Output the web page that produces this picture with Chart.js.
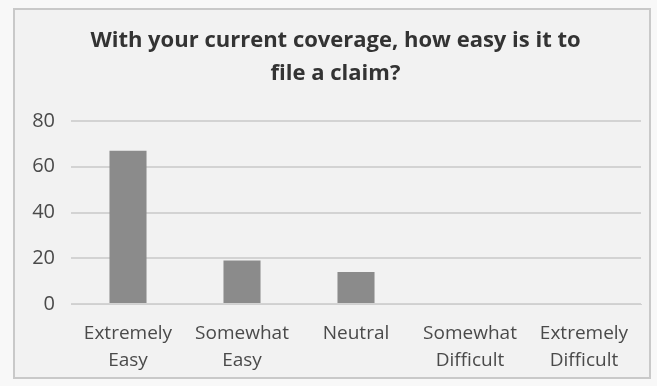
<!DOCTYPE html>
<html>
<head>
<meta charset="utf-8">
<script src="https://cdn.jsdelivr.net/npm/chart.js@4"></script>
<style>
  html, body { margin: 0; padding: 0; background: #f8f8f8; }
  #wrap { position: relative; width: 657px; height: 386px; }
  canvas { display: block; }
</style>
</head>
<body>
<div id="wrap"><canvas id="c" width="657" height="386"></canvas></div>
<script>
const categories = [
  ['Extremely', 'Easy'],
  ['Somewhat', 'Easy'],
  'Neutral',
  ['Somewhat', 'Difficult'],
  ['Extremely', 'Difficult']
];
const responses = [67, 19, 14, 0, 0];
const titleLines = ['With your current coverage, how easy is it to', 'file a claim?'];
const yTicks = [0, 20, 40, 60, 80];

// light panel with a thin grey frame behind the chart
const framePlugin = {
  id: 'frame',
  beforeDraw(chart) {
    const ctx = chart.ctx;
    ctx.save();
    ctx.fillStyle = '#f2f2f2';
    ctx.fillRect(14, 9, 636, 369);
    ctx.strokeStyle = '#c9c9c9';
    ctx.lineWidth = 2;
    ctx.strokeRect(14, 9, 636, 369);
    ctx.restore();
  }
};

new Chart(document.getElementById('c'), {
  type: 'bar',
  data: {
    labels: categories,
    datasets: [{
      data: responses,
      backgroundColor: '#8b8b8b',
      borderWidth: 0,
      barPercentage: 1,
      categoryPercentage: 0.325
    }]
  },
  options: {
    responsive: false,
    animation: false,
    layout: { padding: { top: 24, right: 16, bottom: 0, left: 30 } },
    plugins: {
      legend: { display: false },
      tooltip: { enabled: false },
      title: {
        display: true,
        text: titleLines,
        color: '#333333',
        font: { family: 'Open Sans', size: 22, weight: 'bold', lineHeight: 1.5 },
        padding: { top: 0, bottom: 31 }
      }
    },
    scales: {
      x: {
        grid: { display: false },
        border: { display: true, color: '#d0d0d0', width: 1 },
        ticks: {
          color: '#4a4a4a',
          font: { family: 'Open Sans', size: 19, lineHeight: 1.42 },
          maxRotation: 0,
          autoSkip: false,
          padding: 8
        },
        afterFit(scale) { scale.height = 82; }
      },
      y: {
        min: 0,
        max: 80,
        afterBuildTicks(scale) { scale.ticks = yTicks.map(v => ({ value: v })); },
        grid: { color: '#d3d3d3', lineWidth: 2, drawTicks: false },
        border: { display: false },
        ticks: {
          color: '#4a4a4a',
          font: { family: 'Open Sans', size: 20 },
          padding: 16
        },
        afterFit(scale) { scale.width = 41; }
      }
    }
  },
  plugins: [framePlugin]
});
</script>
</body>
</html>
